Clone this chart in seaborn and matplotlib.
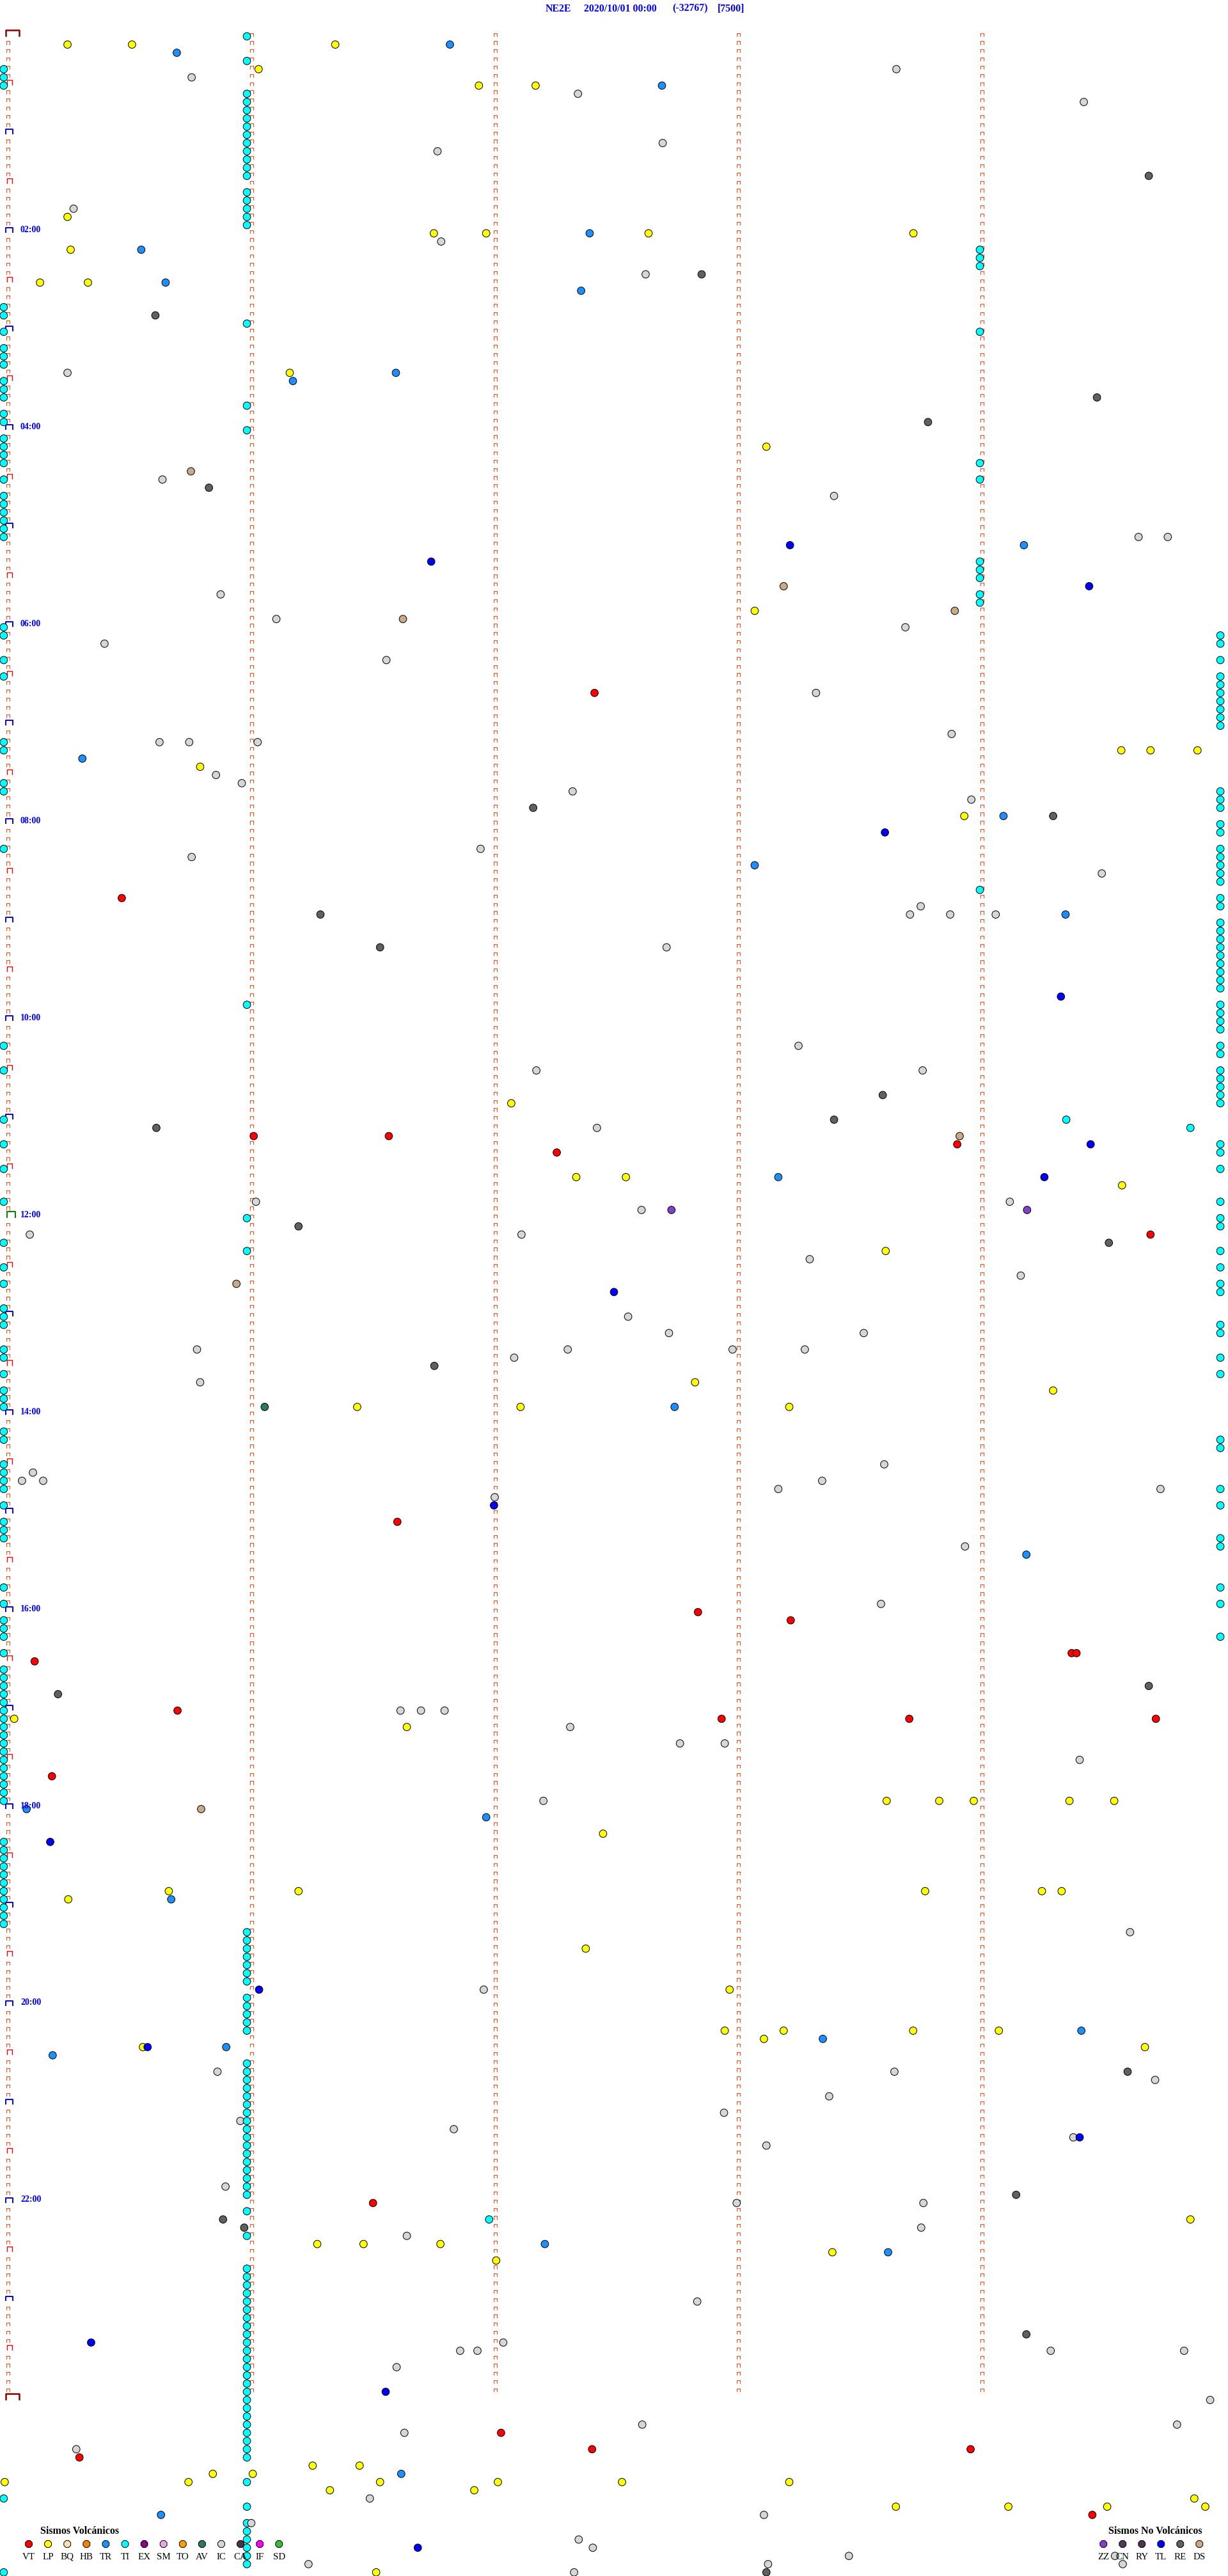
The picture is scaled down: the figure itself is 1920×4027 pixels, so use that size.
import matplotlib
matplotlib.use("Agg")
import matplotlib.pyplot as plt
from matplotlib.path import Path
import pandas as pd
import seaborn as sns

# header of the helicorder page
STATION = "NE2E"
START = "2020/10/01 00:00"
CLIP = "(-32767)"
SCALE = "[7500]"

# 5 minute rows, 288 rows for the day
N_ROWS = 288
N_COLS = 5

# events as (row, minute inside the row)
VT = [(80, 2.41), (105, 0.468), (134, 1.01), (134, 1.565), (135, 3.9), (136, 2.255),
      (146, 4.694), (181, 1.6), (192, 2.835), (193, 3.216), (197, 4.37), (197, 4.39),
      (198, 0.11), (204, 0.697), (205, 2.932), (205, 3.703), (205, 4.716), (212, 0.181),
      (264, 1.5), (292, 2.026), (294, 2.4), (294, 3.955), (295, 0.294), (302, 4.455)]

LP = [(1, 0.245), (1, 0.51), (1, 1.345), (4, 1.03), (6, 1.935), (6, 2.168), (22, 0.245),
      (24, 1.75), (24, 1.965), (24, 2.632), (24, 3.72), (26, 0.258), (30, 0.132), (30, 0.329),
      (41, 1.158), (50, 3.116), (70, 3.068), (87, 4.574), (87, 4.694), (87, 4.887), (89, 0.79),
      (95, 3.929), (130, 2.068), (139, 2.335), (139, 2.539), (140, 4.577), (148, 3.606),
      (164, 2.823), (165, 4.294), (167, 1.435), (167, 2.106), (167, 3.21), (205, 0.026),
      (206, 1.639), (215, 3.61), (215, 3.826), (215, 3.968), (215, 4.361), (215, 4.545),
      (219, 2.445), (226, 0.661), (226, 1.194), (226, 3.768), (226, 4.248), (226, 4.329),
      (227, 0.248), (233, 2.374), (238, 2.965), (243, 2.945), (243, 3.187), (243, 3.719),
      (243, 4.071), (244, 3.106), (245, 0.555), (245, 4.671), (266, 4.858), (269, 1.271),
      (269, 1.461), (269, 1.777), (270, 3.387), (271, 2.006), (296, 1.252), (296, 1.445),
      (297, 0.842), (297, 1.006), (298, -0.013), (298, 0.742), (298, 1.529), (298, 2.013),
      (298, 2.523), (298, 3.21), (299, 1.323), (299, 1.916), (300, 4.874), (301, 3.648),
      (301, 4.11), (301, 4.516), (301, 4.919), (309, 1.513)]

TR = [(1, 1.816), (2, 0.694), (6, 2.687), (24, 2.39), (26, 0.548), (30, 0.648), (31, 2.355),
      (41, 1.594), (42, 1.171), (62, 4.174), (88, 0.306), (95, 4.09), (101, 3.068),
      (107, 4.345), (139, 3.165), (167, 2.739), (185, 4.184), (216, 0.077), (217, 1.965),
      (227, 0.671), (243, 4.41), (244, 3.348), (245, 0.897), (246, 0.184), (269, 2.206),
      (270, 3.616), (297, 1.616), (302, 0.629)]

# tremor (TI) dots, mostly stacked on a few positions
TI_LEFT_ROWS = [4, 5, 6, 33, 34, 36, 38, 39, 40, 42, 43, 44, 46, 47, 49, 50, 51, 52, 54,
                56, 57, 58, 59, 60, 61, 72, 73, 76, 78, 86, 87, 91, 92, 99, 123, 126, 132,
                135, 138, 142, 147, 150, 152, 155, 156, 157, 160, 161, 163, 165, 166, 167,
                170, 171, 174, 175, 176, 177, 179, 181, 182, 183, 189, 191, 193, 194, 195,
                197, 199, 200, 201, 202, 203, 204, 205, 206, 207, 208, 209, 210, 211, 212,
                213, 214, 215, 220, 221, 222, 223, 224, 225, 226, 227, 228, 229, 230, 300, 309]
TI_M1_ROWS = [0, 3, 7, 8, 9, 10, 11, 12, 13, 14, 15, 16, 17, 19, 20, 21, 22, 23, 35, 45, 48,
              118, 144, 148, 231, 232, 233, 234, 235, 236, 237, 239, 240, 241, 242, 243,
              247, 248, 249, 250, 251, 252, 253, 254, 255, 256, 257, 258, 259, 260, 261,
              262, 263, 265, 268, 272, 273, 274, 275, 276, 277, 278, 279, 280, 281, 282,
              283, 284, 285, 286, 287, 288, 289, 290, 291, 292, 293, 294, 295, 298, 301,
              303, 304, 305, 306, 307, 308]
TI_M4_ROWS = [26, 27, 28, 36, 52, 54, 64, 65, 66, 68, 69, 104]
TI_RIGHT_ROWS = [73, 74, 76, 78, 79, 80, 81, 82, 83, 84, 92, 93, 94, 96, 97, 99, 100, 101,
                 102, 103, 105, 106, 108, 109, 110, 111, 112, 113, 114, 115, 116, 118, 119,
                 120, 121, 123, 124, 126, 127, 128, 129, 130, 135, 136, 138, 142, 144, 145,
                 148, 150, 152, 153, 157, 158, 161, 163, 171, 172, 177, 179, 183, 184, 189,
                 191, 195]
TI_OTHER = [(132, 4.348), (133, 4.858), (266, 1.977)]

IC = [(4, 3.65), (5, 0.755), (7, 2.342), (8, 4.42), (13, 2.69), (14, 1.765), (21, 0.27),
      (25, 1.78), (29, 2.62), (41, 0.245), (54, 0.635), (56, 3.394), (61, 4.645), (61, 4.765),
      (68, 0.874), (71, 1.103), (72, 3.687), (74, 0.397), (76, 1.555), (80, 3.32), (85, 3.877),
      (86, 0.623), (86, 0.745), (86, 1.026), (90, 0.855), (91, 0.961), (92, 2.32), (93, 3.958),
      (99, 1.942), (100, 0.755), (102, 4.494), (106, 3.75), (107, 3.706), (107, 3.871),
      (107, 4.058), (111, 2.706), (123, 3.248), (126, 2.171), (126, 3.758), (133, 2.42),
      (142, 1.019), (142, 4.116), (143, 2.603), (146, 0.09), (146, 2.11), (149, 3.294),
      (151, 4.161), (156, 2.548), (158, 2.716), (158, 3.516), (160, 0.777), (160, 2.3),
      (160, 2.977), (160, 3.274), (161, 2.08), (164, 0.79), (174, 3.6), (175, 0.103),
      (176, 0.058), (176, 0.145), (176, 3.345), (177, 3.165), (177, 4.735), (178, 2.0),
      (184, 3.932), (191, 3.587), (204, 1.613), (204, 1.697), (204, 1.794), (206, 2.31),
      (208, 2.761), (208, 2.945), (210, 4.403), (215, 2.2), (231, 4.61), (238, 1.955),
      (248, 0.861), (248, 3.642), (249, 4.713), (251, 3.374), (253, 2.942), (254, 0.955),
      (255, 1.832), (256, 4.377), (257, 3.116), (262, 0.894), (264, 2.994), (264, 3.761),
      (267, 3.752), (268, 1.639), (276, 2.832), (281, 2.035), (282, 1.858), (282, 1.929),
      (282, 4.284), (282, 4.832), (284, 1.597), (288, 4.939), (291, 2.606), (291, 4.803),
      (292, 1.629), (294, 0.281), (300, 1.487), (302, 3.106), (303, 1.0), (305, 2.345),
      (306, 2.403), (307, 3.455), (307, 4.548), (308, 1.235), (308, 3.123), (308, 4.58),
      (309, 2.326)]

RE = [(17, 4.687), (29, 2.85), (34, 0.606), (44, 4.474), (47, 3.78), (55, 0.826), (94, 2.158),
      (95, 4.294), (107, 1.284), (111, 1.529), (129, 3.594), (132, 3.394), (133, 0.61),
      (145, 1.194), (147, 4.523), (162, 1.752), (201, 4.687), (202, 0.206), (248, 4.6),
      (263, 4.142), (266, 0.884), (267, 0.971), (280, 4.184), (309, 3.116)]

TL = [(62, 3.213), (64, 1.739), (67, 4.442), (97, 3.603), (117, 4.326), (135, 4.448),
      (139, 4.258), (153, 2.49), (179, 1.997), (220, 0.174), (238, 1.032), (245, 0.574),
      (256, 4.403), (281, 0.342), (287, 1.552), (306, 1.684)]

DS = [(53, 0.752), (67, 3.187), (70, 3.89), (71, 1.623), (134, 3.91), (152, 0.939), (216, 0.794)]
AV = [(167, 1.055)]
ZZ = [(143, 2.726), (143, 4.187)]

# legend entries
VOLC_TYPES = ["VT", "LP", "BQ", "HB", "TR", "TI", "EX", "SM", "TO", "AV", "IC", "CA", "IF", "SD"]
NONVOLC_TYPES = ["ZZ", "CN", "RY", "TL", "RE", "DS"]

COLORS = {
    "VT": "#FF0000", "LP": "#FFFF00", "BQ": "#F2E6A8", "HB": "#FF8000", "TR": "#1E8FFF",
    "TI": "#00FFFF", "EX": "#8B008B", "SM": "#E8A8E8", "TO": "#FFA000", "AV": "#2B7A5E",
    "IC": "#D6D6D6", "CA": "#503050", "IF": "#FF00FF", "SD": "#33C033",
    "ZZ": "#8040C8", "CN": "#503A58", "RY": "#503050", "TL": "#0000FF", "RE": "#606060",
    "DS": "#C8AA88",
}

# page geometry, pixels
W, H = 1920, 4027
X0_PX, PX_PER_MIN = 12.3, 380.6
Y0_PX, PX_PER_ROW = 56.8, 12.83
PT = 0.72  # points per pixel at dpi 100

MARK = "#FF4A1A"
SERIF = ["Liberation Serif", "DejaVu Serif"]


def bracket(h):
    # an open box drawn like the helicorder minute ticks
    return Path([(-1, -h), (-1, h), (1, h), (1, -h)],
                [Path.MOVETO, Path.LINETO, Path.LINETO, Path.LINETO])


def main():
    sns.set_style("white")

    ti = ([(r, -0.017) for r in TI_LEFT_ROWS] + [(r, 0.982) for r in TI_M1_ROWS] +
          [(r, 3.993) for r in TI_M4_ROWS] + [(r, 4.981) for r in TI_RIGHT_ROWS] + TI_OTHER)
    groups = {"VT": VT, "LP": LP, "TR": TR, "TI": ti, "IC": IC, "RE": RE, "TL": TL,
              "DS": DS, "AV": AV, "ZZ": ZZ}
    frames = [pd.DataFrame(v, columns=["fila", "minuto"]).assign(tipo=k) for k, v in groups.items()]
    df = pd.concat(frames).sort_values(["fila", "minuto"]).reset_index(drop=True)

    fig = plt.figure(figsize=(W / 100, H / 100), dpi=100)
    ax = fig.add_axes([0, 0, 1, 1])
    ax.set_axis_off()

    # minute ticks on every row
    rows = pd.Series(range(N_ROWS))
    for c in range(1, N_COLS):
        ax.scatter([c + 0.002] * len(rows), rows - 0.2, marker=bracket(1.0), s=(5.2 * PT) ** 2,
                   facecolors="none", edgecolors=MARK, linewidths=0.8, zorder=1)
    small = rows[(rows % 6 != 0)]
    ax.scatter([0.001] * len(small), small - 0.2, marker=bracket(1.0), s=(5.2 * PT) ** 2,
               facecolors="none", edgecolors=MARK, linewidths=0.8, zorder=1)

    # half hour, hour, noon and day limits
    half = [r for r in range(6, N_ROWS, 12)]
    hour = [r for r in range(12, N_ROWS, 12) if r != 144]
    ax.scatter([0.007] * len(half), [r - 0.37 for r in half], marker=bracket(0.95),
               s=(8.5 * PT) ** 2, facecolors="none", edgecolors="#FF0000", linewidths=1.0, zorder=2)
    ax.scatter([0.007] * len(hour), [r - 0.34 for r in hour], marker=bracket(0.72),
               s=(11 * PT) ** 2, facecolors="none", edgecolors="#0000FF", linewidths=1.4, zorder=2)
    ax.scatter([0.013], [144 - 0.43], marker=bracket(0.8), s=(13 * PT) ** 2,
               facecolors="none", edgecolors="#008000", linewidths=1.4, zorder=2)
    ax.scatter([0.02, 0.02], [0 - 0.39, N_ROWS - 0.39], marker=bracket(0.45), s=(21 * PT) ** 2,
               facecolors="none", edgecolors="#8B0000", linewidths=1.8, zorder=2)

    # the events
    sns.scatterplot(data=df, x="minuto", y="fila", hue="tipo", palette=COLORS, s=(8.4 ** 2),
                    edgecolor="black", linewidth=0.72, legend=False, ax=ax, zorder=3)

    ax.set_xlim(-X0_PX / PX_PER_MIN, (W - X0_PX) / PX_PER_MIN)
    ax.set_ylim((H - Y0_PX) / PX_PER_ROW, -Y0_PX / PX_PER_ROW)

    # hour labels every two hours
    for r in range(24, N_ROWS, 24):
        ax.text((32 - X0_PX) / PX_PER_MIN, r - 0.39, f"{r // 12:02d}:00", color="#0000FF",
                fontsize=10, fontweight="bold", family=SERIF, ha="left", va="center", zorder=4)

    # page overlay in pixel units for the header and the legends
    lay = fig.add_axes([0, 0, 1, 1], zorder=5)
    lay.set_xlim(0, W)
    lay.set_ylim(H, 0)
    lay.set_axis_off()
    lay.patch.set_alpha(0)

    for txt, x in zip([STATION, START, CLIP, SCALE], [853, 913, 1051, 1122]):
        lay.text(x, 13.5, txt, color="#0000FF", fontsize=11.4, fontweight="bold",
                 family=SERIF, ha="left", va="center")

    lay.text(63, 3957, "Sismos Volcánicos", fontsize=11.5, fontweight="bold", family=SERIF,
             ha="left", va="center", color="black")
    lay.text(1733, 3957, "Sismos No Volcánicos", fontsize=11.5, fontweight="bold", family=SERIF,
             ha="left", va="center", color="black")
    legend_sets = [(VOLC_TYPES, 45.0, 30.1), (NONVOLC_TYPES, 1725.3, 30.0)]
    for names, x0, dx in legend_sets:
        xs = [x0 + dx * i for i in range(len(names))]
        lay.scatter(xs, [3977] * len(xs), marker="8", s=(8.4 ** 2),
                    c=[COLORS[n] for n in names], edgecolors="black", linewidths=0.72)
        for x, n in zip(xs, names):
            lay.text(x, 3997, n, fontsize=10.8, family=SERIF, ha="center", va="center",
                     color="black")

    fig.savefig("out.png", dpi=100)


if __name__ == "__main__":
    main()
